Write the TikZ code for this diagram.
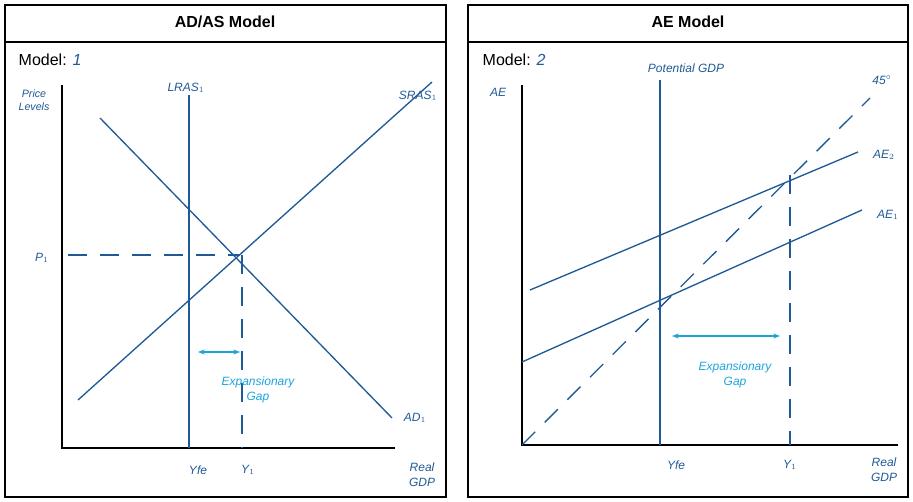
\documentclass[tikz,border=0pt]{standalone}
\usepackage{fontspec}
\setmainfont{Liberation Sans}
\usetikzlibrary{arrows.meta}
\definecolor{ink}{HTML}{1F5A96}
\definecolor{gap}{HTML}{1CA3DC}
\tikzset{
 frame/.style={draw=black,line width=0.8pt},
 ln/.style={draw=ink,line width=1pt},
 dsh/.style={draw=ink,line width=1pt,dash pattern=on 14pt off 10pt},
 ax/.style={draw=black,line width=1pt},
 hand/.style={text=ink,font=\small\itshape},
 gaplab/.style={text=gap,font=\small\itshape,align=center},
 gaparr/.style={draw=gap,line width=1pt,{Stealth[length=5pt]}-{Stealth[length=5pt]}},
 ttl/.style={font=\bfseries\large},
 mdl/.style={font=\large,anchor=west}
}
\begin{document}
\begin{tikzpicture}[x=0.75pt,y=-0.75pt]
\useasboundingbox (0,0) rectangle (913,502);
% left panel
\draw[frame] (5,5) rectangle (446,497);
\draw[frame] (5,42) -- (446,42);
\node[ttl] (t1) at (225,22) {AD/AS Model};
\node[mdl] (m1) at (14,60) {Model: \textcolor{ink}{\itshape 1}};
\coordinate (ly) at (62,85); \coordinate (lo) at (62,448); \coordinate (lx) at (395,448);
\draw[ax] (ly) -- (lo) -- (lx);
\coordinate (lr1) at (189,95); \coordinate (lr2) at (189,448);
\draw[ln] (lr1) -- (lr2);
\coordinate (s1) at (78,400); \coordinate (s2) at (432,82);
\draw[ln] (s1) -- (s2);
\coordinate (d1) at (100,118); \coordinate (d2) at (392,418);
\draw[ln] (d1) -- (d2);
\coordinate (e) at (240,255);
\coordinate (pp) at (68,255); \coordinate (yb) at (242,448); \coordinate (yt) at (242,255);
\draw[dsh] (pp) -- (e);
\draw[dsh] (yt) -- (yb);
\coordinate (ga) at (198,352); \coordinate (gb) at (240,352);
\draw[gaparr] (ga) -- (gb);
\node[gaplab] (g1) at (258,390) {Expansionary\\Gap};
\node[hand,align=center,font=\footnotesize\itshape] (pl) at (34,100) {Price\\Levels};
\node[hand] (lras) at (186,88) {LRAS$_1$};
\node[hand] (sras) at (418,96) {SRAS$_1$};
\node[hand] (p1) at (42,258) {P$_1$};
\node[hand] (ad) at (415,418) {AD$_1$};
\node[hand] (yfe) at (198,470) {Yfe};
\node[hand] (y1) at (248,470) {Y$_1$};
\node[hand,align=center] (rg) at (422,475) {Real\\GDP};
% right panel
\draw[frame] (468,5) rectangle (908,497);
\draw[frame] (468,42) -- (908,42);
\node[ttl] (t2) at (688,22) {AE Model};
\node[mdl] (m2) at (478,60) {Model: \textcolor{ink}{\itshape 2}};
\coordinate (ry) at (522,85); \coordinate (ro) at (522,445); \coordinate (rx) at (898,445);
\draw[ax] (ry) -- (ro) -- (rx);
\coordinate (pg1) at (660,80); \coordinate (pg2) at (660,445);
\draw[ln] (pg1) -- (pg2);
\coordinate (f2) at (870,98);
\draw[dsh] (ro) -- (f2);
\coordinate (a21) at (530,290); \coordinate (a22) at (858,152);
\draw[ln] (a21) -- (a22);
\coordinate (a11) at (522,362); \coordinate (a12) at (862,210);
\draw[ln] (a11) -- (a12);
\coordinate (y1t) at (790,175); \coordinate (y1b) at (790,445);
\draw[dsh] (y1t) -- (y1b);
\coordinate (gc) at (672,336); \coordinate (gd) at (780,336);
\draw[gaparr] (gc) -- (gd);
\node[gaplab] (g2) at (735,375) {Expansionary\\Gap};
\node[hand] (pgl) at (686,68) {Potential GDP};
\node[hand] (ae) at (498,92) {AE};
\node[hand] (f45) at (882,80) {45$^\circ$};
\node[hand] (ae2) at (884,155) {AE$_2$};
\node[hand] (ae1) at (888,215) {AE$_1$};
\node[hand] (ryfe) at (676,465) {Yfe};
\node[hand] (ry1) at (790,465) {Y$_1$};
\node[hand,align=center] (rrg) at (884,470) {Real\\GDP};
\end{tikzpicture}
\end{document}
